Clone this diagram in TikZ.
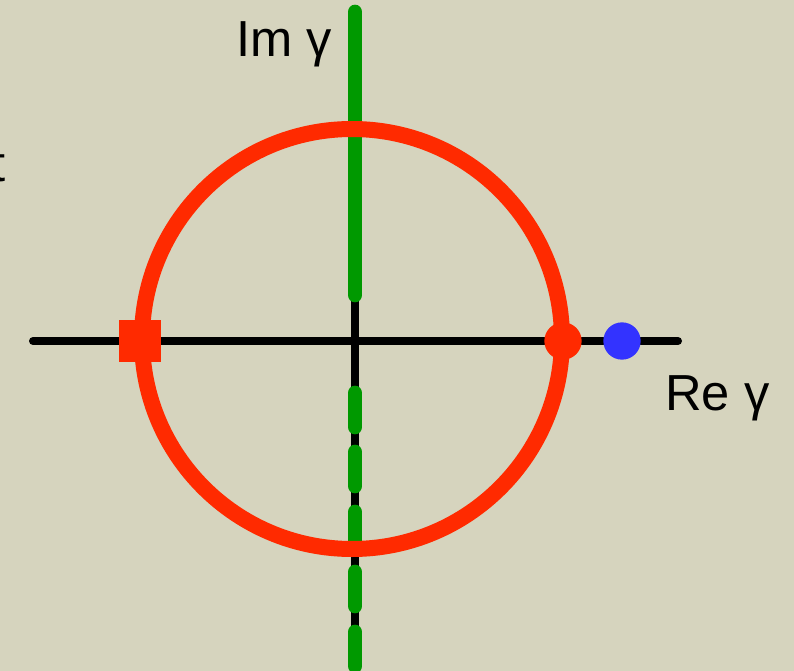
\documentclass[tikz,border=0pt]{standalone}
\usepackage{fontspec}
\setmainfont{Liberation Sans}
\definecolor{bg}{RGB}{214,212,190}
\definecolor{gr}{RGB}{0,153,0}
\definecolor{rd}{RGB}{255,42,0}
\definecolor{bl}{RGB}{51,51,255}
\begin{document}
\begin{tikzpicture}[x=0.75pt,y=-0.75pt,
  lbl/.style={font=\fontsize{38}{40}\selectfont, inner sep=0pt},
  axisline/.style={line width=6pt, black, line cap=round},
  greenline/.style={line width=11pt, gr, line cap=round}]
\fill[bg] (0,0) rectangle (794,671);
\useasboundingbox (0,0) rectangle (794,671);
% coordinates
\coordinate (L) at (33,341);
\coordinate (R) at (678,341);
\coordinate (O) at (355,341);
\coordinate (T) at (355,12);
\coordinate (GT) at (355,295);
\coordinate (B) at (355,662);
% axes
\draw[axisline] (L) -- (R);
\draw[axisline] (O) -- (GT);
\draw[axisline] (O) -- (B);
\draw[greenline] (T) -- (GT);
\foreach \a in {388,447,507,567,627}
  \draw[greenline] (355,\a+5) -- (355,\a+39);
% circle
\node[circle, draw=rd, line width=12pt, minimum size=420*0.75pt, inner sep=0pt] (C) at (352,339) {};
% markers
\node[fill=rd, minimum size=31pt, inner sep=0pt] (sq) at (140,341) {};
\node[circle, fill=rd, minimum size=28pt, inner sep=0pt] (rdot) at (563,341) {};
\node[circle, fill=bl, minimum size=28pt, inner sep=0pt] (bdot) at (622,341) {};
% labels
\node[lbl, anchor=base west] (im) at (236,56) {Im γ};
\node[lbl, anchor=base west] (re) at (665,410) {Re γ};
\node[lbl, anchor=base east] (tfrag) at (6,181) {t};
\end{tikzpicture}
\end{document}
